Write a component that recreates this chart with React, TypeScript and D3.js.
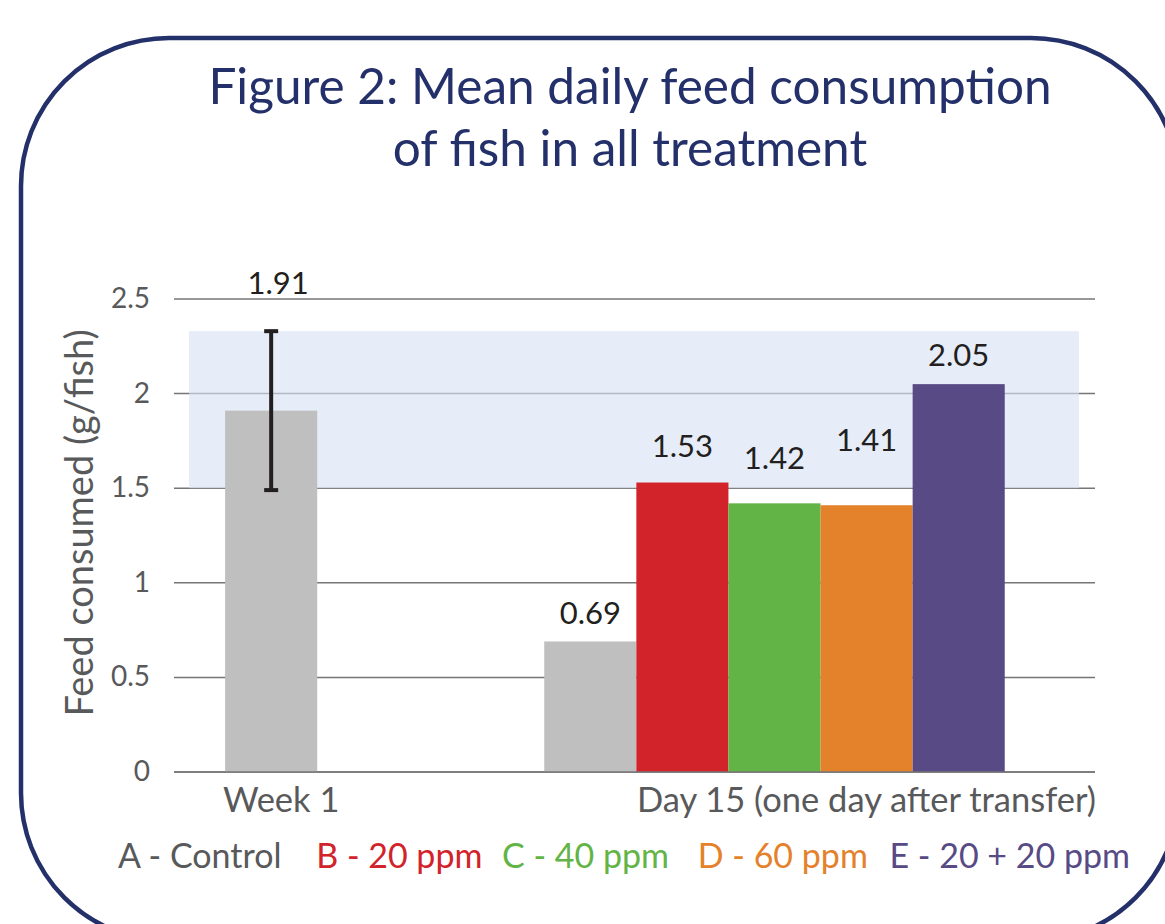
import React from "react";
import * as d3 from "d3";

// ---------- data ----------
const categories = ["Week 1", "Day 15 (one day after transfer)"];
const seriesNames = ["A - Control", "B - 20 ppm", "C - 40 ppm", "D - 60 ppm", "E - 20 + 20 ppm"];
const seriesColors = ["#bfbfbf", "#d2232b", "#63b446", "#e4822c", "#574a85"];
const legendColors = ["#58595b", "#d2232b", "#63b446", "#e4822c", "#574a85"];
const week1Values = [1.91];
const day15Values = [0.69, 1.53, 1.42, 1.41, 2.05];
const week1ErrLow = 1.49;
const week1ErrHigh = 2.33;
const bandRange = [1.5, 2.33];
const yTicks = [0, 0.5, 1, 1.5, 2, 2.5];
const yTickLabels = ["0", "0.5", "1", "1.5", "2", "2.5"];

// ---------- layout (not data) ----------
const W = 1165;
const H = 924;
const FONT = "Lato, 'Open Sans', sans-serif";
const plotLeft = 174;
const plotRight = 1095;
const plotTop = 299;
const plotBottom = 772;
const slotCount = 10;
const week1SlotStart = 0.555;
const day15SlotStart = 4.02;
const dayLabelLift = [17, 26, 34, 54, 18];
const legendGaps = [0, 35, 20, 29, 22];

export default function App() {
  const y = d3.scaleLinear().domain([0, 2.5]).range([plotBottom, plotTop]);
  const slot = d3.scaleLinear().domain([0, slotCount]).range([plotLeft, plotRight]);

  const week1Band = d3
    .scaleBand<string>()
    .domain(seriesNames.slice(0, week1Values.length))
    .range([slot(week1SlotStart), slot(week1SlotStart + week1Values.length)])
    .padding(0);
  const dayBand = d3
    .scaleBand<string>()
    .domain(seriesNames)
    .range([slot(day15SlotStart), slot(day15SlotStart + day15Values.length)])
    .padding(0);

  const w1x = week1Band(seriesNames[0])!;
  const w1c = w1x + week1Band.bandwidth() / 2;

  return (
    <svg
      width={W}
      height={H}
      viewBox={`0 0 ${W} ${H}`}
      style={{ position: "absolute", left: 0, top: 0, background: "#fff" }}
      fontFamily={FONT}
    >
      <rect x={0} y={0} width={W} height={H} fill="#fff" />
      {/* frame */}
      <rect x={21} y={38} width={1158} height={903} rx={148} ry={148} fill="none" stroke="#24306a" strokeWidth={4.5} />

      {/* title */}
      <text x={630} y={104} textAnchor="middle" fontSize={49.5} fill="#24306a">
        Figure 2: Mean daily feed consumption
      </text>
      <text x={630} y={166} textAnchor="middle" fontSize={49.5} fill="#24306a">
        of fish in all treatment
      </text>

      {/* gridlines */}
      {yTicks.map((t) => (
        <line key={t} x1={plotLeft} x2={plotRight} y1={y(t)} y2={y(t)} stroke="#767676" strokeWidth={1.5} />
      ))}

      {/* highlighted band */}
      <rect
        x={189}
        y={y(bandRange[1])}
        width={1079 - 189}
        height={y(bandRange[0]) - y(bandRange[1])}
        fill="rgb(214,226,244)"
        fillOpacity={0.62}
      />

      {/* y tick labels */}
      {yTicks.map((t, i) => (
        <text key={t} x={150} y={y(t) + 9} textAnchor="end" fontSize={28} fill="#58595b">
          {yTickLabels[i]}
        </text>
      ))}

      {/* y axis title */}
      <text
        transform={`translate(93, ${523}) rotate(-90)`}
        textAnchor="middle"
        fontSize={38}
        fill="#58595b"
      >
        Feed consumed (g/fish)
      </text>

      {/* week 1 bars */}
      {week1Values.map((v, i) => (
        <rect
          key={"w" + i}
          x={week1Band(seriesNames[i])}
          y={y(v)}
          width={week1Band.bandwidth()}
          height={y(0) - y(v)}
          fill={seriesColors[i]}
        />
      ))}
      {/* day 15 bars */}
      {day15Values.map((v, i) => (
        <rect
          key={"d" + i}
          x={dayBand(seriesNames[i])}
          y={y(v)}
          width={dayBand.bandwidth()}
          height={y(0) - y(v)}
          fill={seriesColors[i]}
        />
      ))}

      {/* error bar */}
      <g stroke="#231f20" strokeWidth={4}>
        <line x1={w1c} x2={w1c} y1={y(week1ErrLow)} y2={y(week1ErrHigh)} />
        <line x1={w1c - 7} x2={w1c + 7} y1={y(week1ErrLow)} y2={y(week1ErrLow)} />
        <line x1={w1c - 7} x2={w1c + 7} y1={y(week1ErrHigh)} y2={y(week1ErrHigh)} />
      </g>

      {/* baseline */}
      <line x1={plotLeft} x2={plotRight} y1={y(0)} y2={y(0)} stroke="#767676" strokeWidth={1.5} />

      {/* value labels */}
      <text x={w1c + 7} y={y(week1ErrHigh) - 37} textAnchor="middle" fontSize={31} fill="#231f20">
        {week1Values[0].toFixed(2)}
      </text>
      {day15Values.map((v, i) => (
        <text
          key={"l" + i}
          x={dayBand(seriesNames[i])! + dayBand.bandwidth() / 2}
          y={y(v) - dayLabelLift[i]}
          textAnchor="middle"
          fontSize={31}
          fill="#231f20"
        >
          {v.toFixed(2)}
        </text>
      ))}

      {/* category labels */}
      <text x={w1c + 10} y={812} textAnchor="middle" fontSize={34.5} fill="#58595b">
        {categories[0]}
      </text>
      <text x={plotRight + 1} y={812} textAnchor="end" fontSize={34.5} fill="#58595b">
        {categories[1]}
      </text>

      {/* legend */}
      <text x={624} y={868} textAnchor="middle" fontSize={34}>
        {seriesNames.map((s, i) => (
          <tspan key={s} dx={legendGaps[i]} fill={legendColors[i]}>
            {s}
          </tspan>
        ))}
      </text>
    </svg>
  );
}
